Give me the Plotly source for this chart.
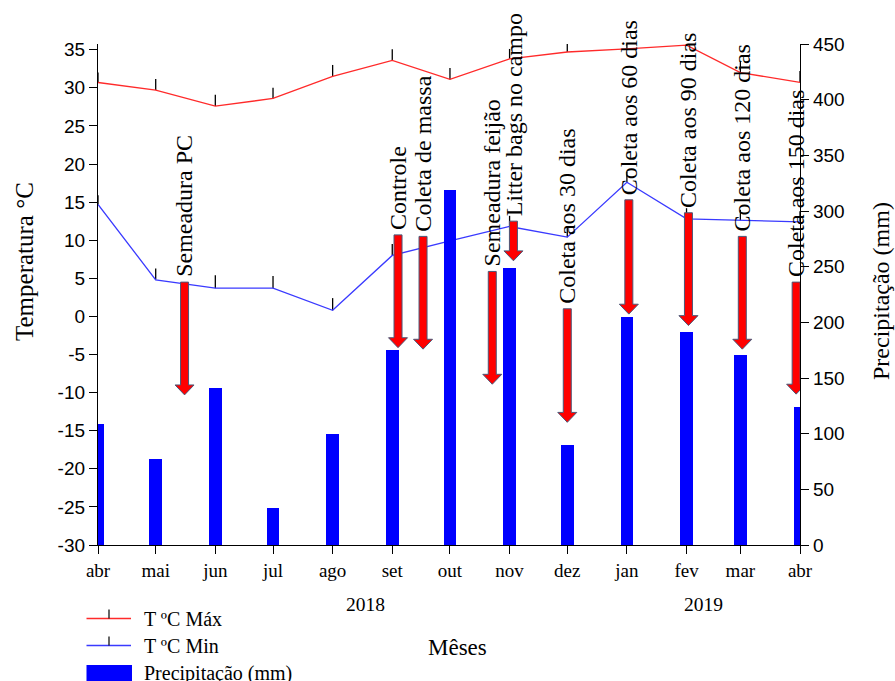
import plotly.graph_objects as go

# Monthly series, April 2018 - April 2019
months = ["2018-04-01", "2018-05-01", "2018-06-01", "2018-07-01", "2018-08-01",
          "2018-09-01", "2018-10-01", "2018-11-01", "2018-12-01", "2019-01-01",
          "2019-02-01", "2019-03-01", "2019-04-01"]
month_labels = ["abr", "mai", "jun", "jul", "ago", "set", "out", "nov", "dez",
                "jan", "fev", "mar", "abr"]

t_max = [30.7, 29.7, 27.6, 28.6, 31.5, 33.6, 31.1, 33.8, 34.7, 35.1, 35.6, 32.0, 30.7]
t_max_err = [1.3, 1.45, 1.5, 1.4, 1.5, 1.45, 1.5, 1.3, 1.45, 1.4, 1.4, 1.4, 1.5]
t_min = [14.7, 4.8, 3.7, 3.7, 0.8, 8.0, 9.9, 11.8, 10.4, 17.6, 12.8, 12.6, 12.4]
t_min_err = [1.2, 1.5, 1.7, 1.6, 1.6, 1.5, 1.4, 1.4, 1.4, 1.4, 1.4, 1.4, 1.4]
precip = [109, 77, 141, 33, 100, 175, 319, 249, 90, 205, 191, 171, 124]

temp_ticks = list(range(-30, 40, 5))
precip_ticks = list(range(0, 500, 50))

# Field events marked with arrows (dates and arrow extent in °C)
event_dates = ["2018-05-16", "2018-09-04", "2018-09-17", "2018-10-23", "2018-11-03",
               "2018-12-01", "2019-01-02", "2019-02-02", "2019-03-02", "2019-03-30"]
event_labels = ["Semeadura PC", "Controle", "Coleta de massa", "Semeadura feijão",
                "Litter bags no campo", "Coleta aos 30 dias", "Coleta aos 60 dias",
                "Coleta aos 90 dias", "Coleta aos 120 dias", "Coleta aos 150 dias"]
arrow_top = [4.5, 10.7, 10.5, 5.9, 12.5, 1.0, 15.3, 13.6, 10.5, 4.5]
arrow_tip = [-10.3, -4.1, -4.3, -8.9, 7.3, -13.9, 0.3, -1.2, -4.3, -10.2]

year_labels = ["2018", "2019"]
year_pos = ["2018-08-18", "2019-02-10"]

SERIF = "Liberation Serif, Times New Roman, serif"
SANS = "Liberation Sans, Arial, sans-serif"

fig = go.Figure()

fig.add_trace(go.Bar(
    x=months, y=precip, yaxis="y2", name="Precipitação (mm)",
    marker=dict(color="#0000ff", line=dict(width=0)),
    width=6.5 * 86400000, showlegend=False,
))

fig.add_trace(go.Scatter(
    x=months, y=t_max, mode="lines", name="T ºC Máx",
    line=dict(color="#ff2a2a", width=1.3),
    error_y=dict(type="data", symmetric=False, array=t_max_err,
                 arrayminus=[0] * len(t_max), width=0, color="black", thickness=1.3),
    showlegend=False,
))
fig.add_trace(go.Scatter(
    x=months, y=t_min, mode="lines", name="T ºC Min",
    line=dict(color="#3a3aff", width=1.3),
    error_y=dict(type="data", symmetric=False, array=t_min_err,
                 arrayminus=[0] * len(t_min), width=0, color="black", thickness=1.3),
    showlegend=False,
))

shapes = []
annotations = []

# Block arrows: x in pixels around the event date, y in °C
SHAFT = 4
HEAD = 9.5
HEAD_LEN = 1.3
for d, top, tip, lab in zip(event_dates, arrow_top, arrow_tip, event_labels):
    neck = tip + HEAD_LEN
    path = (f"M {-SHAFT},{top} L {SHAFT},{top} L {SHAFT},{neck} L {HEAD},{neck} "
            f"L 0,{tip} L {-HEAD},{neck} L {-SHAFT},{neck} Z")
    shapes.append(dict(type="path", xref="x", yref="y", xsizemode="pixel",
                       xanchor=d, path=path, fillcolor="#ff0000",
                       line=dict(color="#4a5878", width=1), layer="above"))
    annotations.append(dict(x=d, y=top + 0.5, xref="x", yref="y", text=lab,
                            textangle=-90, showarrow=False, xanchor="center",
                            yanchor="bottom", borderpad=0,
                            font=dict(family=SERIF, size=24, color="black")))

# Plot-area geometry in pixels (for placing text outside the axes)
L, R, T, B = 98, 95, 44, 136
W, H = 895, 681
PW, PH = W - L - R, H - T - B


def px(xp):
    return (xp - L) / PW


def py(yp):
    return (H - B - yp) / PH


for lab, pos in zip(year_labels, year_pos):
    annotations.append(dict(x=pos, y=py(604), xref="x", yref="paper", text=lab,
                            showarrow=False, xanchor="center", yanchor="middle",
                            font=dict(family=SERIF, size=19.5, color="black")))

annotations.append(dict(x=px(457), y=py(647), xref="paper", yref="paper", text="Mêses",
                        showarrow=False, xanchor="center", yanchor="middle",
                        font=dict(family=SERIF, size=23, color="black")))
annotations.append(dict(x=px(24), y=py(262), xref="paper", yref="paper",
                        text="Temperatura °C", textangle=-90, showarrow=False,
                        xanchor="center", yanchor="middle",
                        font=dict(family=SERIF, size=25, color="black")))
annotations.append(dict(x=px(881), y=py(291), xref="paper", yref="paper",
                        text="Precipitação (mm)", textangle=-90, showarrow=False,
                        xanchor="center", yanchor="middle",
                        font=dict(family=SERIF, size=24, color="black")))

# Legend drawn below the axes
legend_items = [("T ºC Máx", "#ff2a2a", 618.5), ("T ºC Min", "#3a3aff", 645.5)]
for text, color, yy in legend_items:
    shapes.append(dict(type="line", xref="paper", yref="paper",
                       x0=px(86.5), x1=px(131), y0=py(yy), y1=py(yy),
                       line=dict(color=color, width=1.6)))
    shapes.append(dict(type="line", xref="paper", yref="paper",
                       x0=px(109), x1=px(109), y0=py(yy), y1=py(yy - 9),
                       line=dict(color="black", width=1.2)))
    annotations.append(dict(x=px(142), y=py(yy), xref="paper", yref="paper", text=text,
                            showarrow=False, xanchor="left", yanchor="middle",
                            font=dict(family=SERIF, size=20, color="black")))
shapes.append(dict(type="rect", xref="paper", yref="paper",
                   x0=px(86.5), x1=px(132), y0=py(665), y1=py(684),
                   fillcolor="#0000ff", line=dict(width=0)))
annotations.append(dict(x=px(142), y=py(673.5), xref="paper", yref="paper",
                        text="Precipitação (mm)", showarrow=False, xanchor="left",
                        yanchor="middle",
                        font=dict(family=SERIF, size=20, color="black")))

fig.update_layout(
    width=W, height=H,
    margin=dict(l=L, r=R, t=T, b=B),
    paper_bgcolor="white", plot_bgcolor="white",
    showlegend=False,
    bargap=0,
    xaxis=dict(type="date", range=["2018-04-01", "2019-04-01"],
               tickvals=months, ticktext=month_labels,
               showline=True, linecolor="black", linewidth=1.3,
               ticks="outside", ticklen=8, tickcolor="black", tickwidth=1.3,
               showgrid=False, zeroline=False,
               tickfont=dict(family=SERIF, size=19, color="black")),
    yaxis=dict(range=[-30, 35.75], tickvals=temp_ticks,
               ticktext=[str(v) for v in temp_ticks],
               showline=True, linecolor="black", linewidth=1.3,
               ticks="outside", ticklen=8, tickcolor="black", tickwidth=1.3,
               showgrid=False, zeroline=False,
               tickfont=dict(family=SANS, size=19, color="black")),
    yaxis2=dict(range=[0, 450], tickvals=precip_ticks,
                ticktext=[str(v) for v in precip_ticks],
                overlaying="y", side="right",
                showline=True, linecolor="black", linewidth=1.3,
                ticks="outside", ticklen=8, tickcolor="black", tickwidth=1.3,
                showgrid=False, zeroline=False,
                tickfont=dict(family=SANS, size=19, color="black")),
    shapes=shapes,
    annotations=annotations,
)

fig.write_html("out.html")
